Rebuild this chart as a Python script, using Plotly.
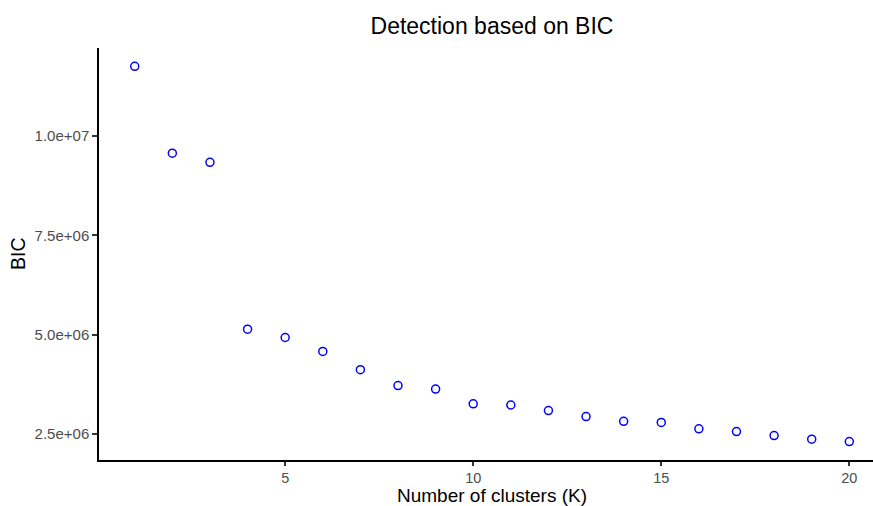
import plotly.graph_objects as go

# Data
k_values = list(range(1, 21))
bic_values = [11.76e6, 9.57e6, 9.34e6, 5.14e6, 4.93e6, 4.58e6, 4.12e6, 3.72e6, 3.63e6, 3.26e6,
              3.23e6, 3.09e6, 2.94e6, 2.82e6, 2.79e6, 2.63e6, 2.56e6, 2.46e6, 2.37e6, 2.31e6]
y_tickvals = [2.5e6, 5.0e6, 7.5e6, 1.0e7]
y_ticktext = ["2.5e+06", "5.0e+06", "7.5e+06", "1.0e+07"]
x_tickvals = [5, 10, 15, 20]
title_text = "Detection based on BIC"
x_title = "Number of clusters (K)"
y_title = "BIC"

FONT = "Liberation Sans, Arial, Helvetica, sans-serif"

# plot area geometry in pixels
L, R, T, B = 99, 873, 48, 460
W, H = 873, 506


def px_x(x):
    return (x - L) / (R - L)


def px_y(y):
    return (B - y) / (B - T)


fig = go.Figure()
fig.add_trace(go.Scatter(
    x=k_values, y=bic_values, mode="markers",
    marker=dict(symbol="circle-open", size=8, color="#0000FF", line=dict(width=1.5, color="#0000FF")),
    showlegend=False, hoverinfo="x+y",
))

fig.update_layout(
    width=W, height=H,
    margin=dict(l=L, r=W - R, t=T, b=H - B, pad=0),
    paper_bgcolor="white", plot_bgcolor="white",
    font=dict(family=FONT, color="black"),
    title=dict(text=title_text, x=px_x(492), xref="paper", xanchor="center",
               y=1 - 26 / H, yref="container", yanchor="middle",
               font=dict(size=23, color="black", family=FONT)),
    xaxis=dict(
        range=[0.05, 20.63], tickvals=x_tickvals, ticktext=[str(v) for v in x_tickvals],
        showgrid=False, zeroline=False, showline=True, linecolor="black", linewidth=1.5,
        ticks="outside", ticklen=4, tickwidth=1.5, tickcolor="#333333",
        tickfont=dict(size=14.5, color="#4D4D4D", family=FONT),
        fixedrange=True,
    ),
    yaxis=dict(
        range=[1.845e6, 12.22e6], tickvals=y_tickvals, ticktext=y_ticktext,
        showgrid=False, zeroline=False, showline=True, linecolor="black", linewidth=1.5,
        ticks="outside", ticklen=5, tickwidth=1.5, tickcolor="#333333",
        tickfont=dict(size=15, color="#4D4D4D", family=FONT),
        fixedrange=True,
    ),
    annotations=[
        dict(text=x_title, xref="paper", yref="paper", x=px_x(492), y=px_y(495.5),
             xanchor="center", yanchor="middle", showarrow=False,
             font=dict(size=19, color="black", family=FONT)),
        dict(text=y_title, xref="paper", yref="paper", x=px_x(18), y=px_y(254),
             xanchor="center", yanchor="middle", showarrow=False, textangle=-90,
             font=dict(size=19.5, color="black", family=FONT)),
    ],
)

fig.write_html("out.html", config={"displayModeBar": False})
